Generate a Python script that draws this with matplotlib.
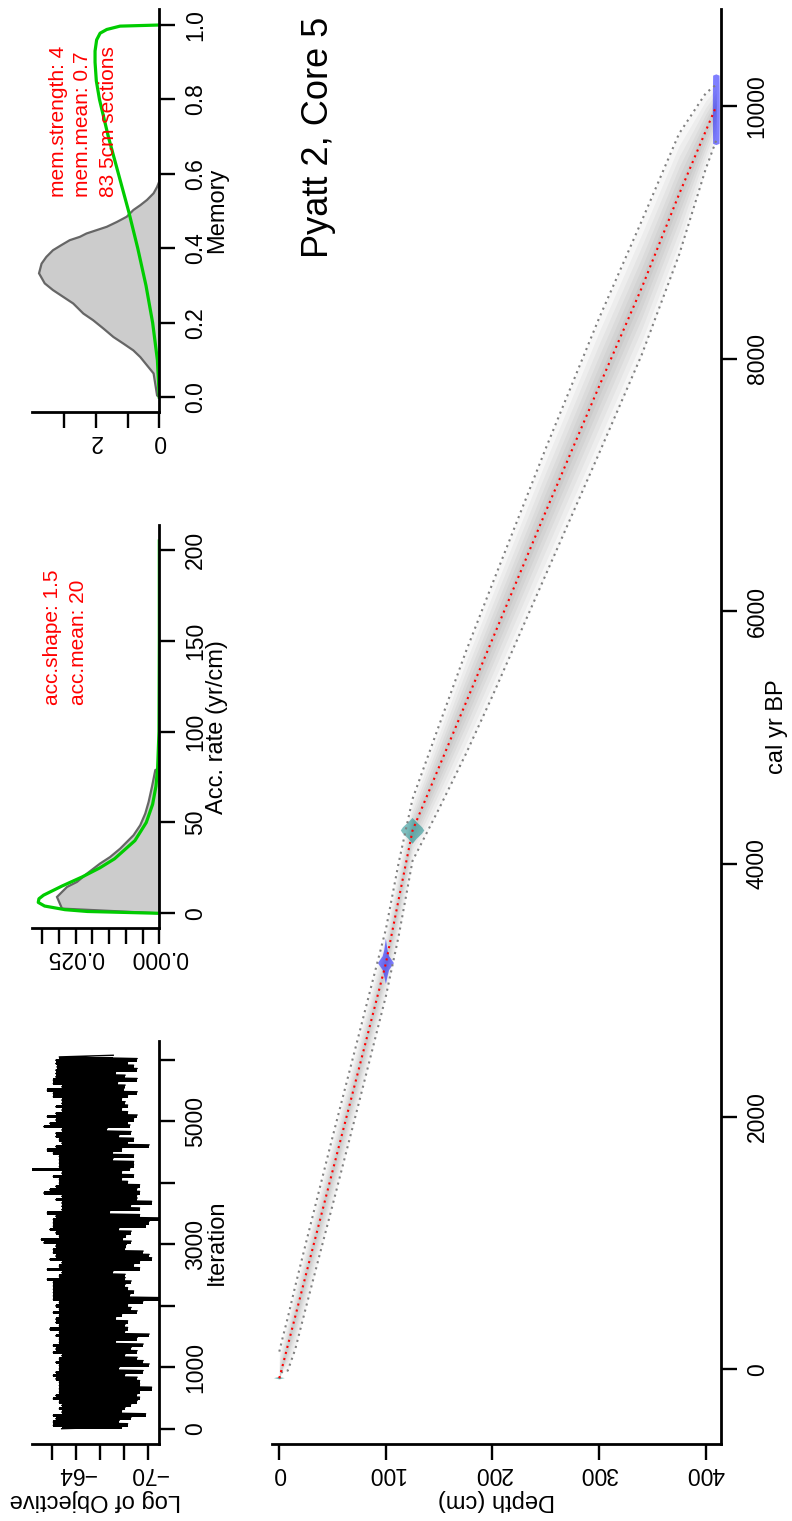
import numpy as np
import matplotlib
matplotlib.use("Agg")
import matplotlib.pyplot as plt

plt.rcParams['font.family'] = ['Liberation Sans', 'DejaVu Sans']

# ---- MCMC trace (log of objective): band edges per block, last block first
obj_hi = [-62.6, -62.3, -62.3, -62.4, -62.3, -62.3, -62.3, -62.1, -62.1, -62.8,
          -61.6, -62.1, -62.1, -62.8, -62.8, -62.3, -62.8, -62.3, -61.6, -62.3,
          -61.8, -61.3, -62.8, -62.3, -62.3, -62.6, -62.8, -62.3, -61.6, -62.1,
          -62.6, -62.6, -62.6, -62.6, -60.3, -62.8, -62.1, -62.6, -62.6, -62.3,
          -61.8, -61.3, -62.8, -62.3, -62.8, -62.8, -62.8, -61.6, -62.3, -62.1,
          -62.1, -62.1, -61.8, -62.3, -62.6, -61.1, -61.3, -62.3, -62.1, -62.1,
          -62.3, -61.8, -62.8, -62.6, -61.6, -62.8, -62.6, -61.6, -62.1, -62.1,
          -62.1, -62.1, -62.1, -62.1, -62.6, -62.3, -62.6, -62.1, -62.6, -62.3,
          -62.3, -62.6, -61.8, -62.6, -62.3, -62.6, -62.6, -62.1, -62.3, -62.1,
          -62.8, -62.6, -62.3, -62.6, -62.6, -62.3, -62.1, -62.3, -62.6, -62.6,
          -62.6, -62.6, -62.3, -62.1, -62.6, -62.8, -62.6, -62.8, -62.1, -62.3,
          -62.1, -62.1, -62.8]
obj_lo = [-67.1, -69.1, -68.3, -68.8, -69.1, -67.3, -68.1, -69.1, -67.5, -68.1,
          -68.0, -69.1, -68.3, -67.8, -68.1, -68.3, -67.8, -68.3, -69.1, -68.8,
          -68.3, -68.5, -66.6, -68.6, -67.6, -68.8, -68.3, -70.1, -67.8, -67.1,
          -68.8, -67.1, -68.8, -68.8, -68.5, -67.8, -68.8, -67.8, -68.3, -69.3,
          -69.1, -69.3, -69.1, -69.1, -70.3, -68.6, -69.3, -66.8, -69.3, -70.9,
          -70.1, -69.8, -67.6, -68.6, -68.2, -67.9, -68.6, -68.2, -68.1, -69.6,
          -70.1, -70.3, -69.3, -68.8, -69.3, -67.1, -68.1, -68.1, -68.6, -68.1,
          -68.3, -68.8, -68.5, -70.9, -69.6, -68.3, -68.6, -69.1, -67.8, -67.3,
          -68.3, -68.1, -68.3, -68.1, -70.1, -69.1, -67.3, -69.6, -68.6, -69.1,
          -68.1, -69.1, -69.6, -70.1, -67.6, -69.6, -68.1, -69.1, -69.3, -69.3,
          -70.3, -69.3, -69.1, -69.3, -69.1, -68.6, -68.1, -67.8, -69.8, -68.6,
          -67.6, -68.3, -67.8]
n_iter = 6050

# ---- accumulation rate: gamma prior and posterior
acc_rate = [0, 1, 2, 4, 6, 8, 10, 15, 20, 25, 30, 40, 50, 60, 70, 80, 100, 150, 205]
acc_prior = [0, 0.0215, 0.0282, 0.0343, 0.0362, 0.0360, 0.0346, 0.0291, 0.0231, 0.0178,
             0.0134, 0.0073, 0.0039, 0.0020, 0.0010, 0.0005, 0.0001, 0, 0]
acc_post_rate = [0, 2.6, 9.0, 14.5, 17.3, 21.9, 27.4, 31.0, 35.6, 39.3, 43.0, 48.5,
                 54.9, 61.3, 69.6, 78.8, 80]
acc_post = [0, 0.0291, 0.0306, 0.0276, 0.0246, 0.0216, 0.0177, 0.0147, 0.0117, 0.0097,
            0.0077, 0.0057, 0.0042, 0.0032, 0.0022, 0.0012, 0]

# ---- memory: beta prior and posterior
mem_w = [0, 0.1, 0.2, 0.3, 0.4, 0.5, 0.6, 0.7, 0.8, 0.85, 0.9, 0.93, 0.96, 0.978, 0.988, 0.997, 1.0]
mem_prior = [0, 0.06, 0.21, 0.42, 0.68, 0.97, 1.29, 1.61, 1.89, 1.99, 2.03, 2.03, 1.98, 1.87,
             1.66, 1.24, 0]
mem_post_w = [0, 0.005, 0.064, 0.086, 0.108, 0.126, 0.144, 0.162, 0.185, 0.207, 0.225, 0.252,
              0.270, 0.288, 0.306, 0.333, 0.359, 0.377, 0.395, 0.409, 0.422, 0.431, 0.440,
              0.449, 0.458, 0.471, 0.485, 0.503, 0.516, 0.530, 0.548, 0.565, 0.58, 0.99]
mem_post = [0, 0.07, 0.18, 0.39, 0.60, 0.82, 1.13, 1.45, 1.77, 2.09, 2.40, 2.72, 3.04, 3.36,
            3.62, 3.80, 3.72, 3.57, 3.36, 3.09, 2.83, 2.51, 2.30, 1.98, 1.66, 1.34, 1.03,
            0.82, 0.60, 0.39, 0.18, 0.07, 0, 0]

# ---- age-depth model
depth = [0, 3, 8, 15, 25, 50, 75, 100, 112, 125, 150, 175, 200, 250, 300, 340, 375, 400, 410]
age_mean = [-70, 25, 190, 420, 750, 1570, 2390, 3214, 3720, 4265, 4770, 5275, 5780, 6790,
            7780, 8560, 9300, 9800, 10000]
age_min = [-75, -15, -10, 160, 490, 1300, 2120, 2954, 3430, 4025, 4440, 4870, 5330, 6290,
           7250, 8030, 8820, 9500, 9730]
age_max = [140, 245, 410, 660, 1000, 1840, 2660, 3484, 4010, 4515, 5100, 5680, 6220, 7290,
           8320, 9090, 9780, 10100, 10170]

# calibrated dates: depth, ages and half-width (cm) of the probability shape
date_depth = [0, 100, 125, 410]
date_ages = [[-80, -70, -60],
             [3050, 3110, 3160, 3190, 3215, 3240, 3270, 3320, 3410],
             [4160, 4200, 4240, 4265, 4290, 4330, 4365],
             [9690, 9700, 9850, 9970, 10100, 10240, 10250]]
date_width = [[0, 5, 0],
              [0, 1.5, 3, 5.5, 7.5, 5.5, 3, 1.5, 0],
              [0, 4, 9, 11, 9, 4, 0],
              [0, 3, 3.2, 3.3, 3.2, 3, 0]]
date_col = [(0, 0.5, 0.5, 0.5), (0, 0, 1, 0.5), (0, 0.5, 0.5, 0.5), (0, 0, 1, 0.5)]

W, H = 792, 1521
fig = plt.figure(figsize=(W / 100, H / 100), dpi=100)


def rect(x0, y0, x1, y1):
    return [x0 / W, 1 - y1 / H, (x1 - x0) / W, (y1 - y0) / H]


def frame(ax):
    ax.spines['top'].set_visible(False)
    ax.spines['left'].set_visible(False)
    ax.spines['bottom'].set_linewidth(2)
    ax.spines['right'].set_linewidth(2)
    ax.yaxis.tick_right()
    ax.yaxis.set_label_position('right')
    ax.tick_params(direction='out', length=11.5, width=1.7, labelsize=16.5)
    ax.tick_params(axis='y', pad=6.5, labelrotation=90)
    ax.tick_params(axis='x', pad=1.2, labelrotation=180)
    ax.patch.set_alpha(0)


def fix_labels(ax):
    for t in ax.get_yticklabels():
        t.set_va('center')


ax_mem = fig.add_axes(rect(32, 9.3, 159.3, 412.3))
ax_acc = fig.add_axes(rect(32, 525, 159.3, 928.3))
ax_obj = fig.add_axes(rect(32, 1041, 159.3, 1444.3))
ax_age = fig.add_axes(rect(272, 9.3, 720.7, 1444.3))

# log of objective trace: solid band per block plus the zigzag between extremes
hi = np.array(obj_hi[::-1])
lo = np.array(obj_lo[::-1])
it = np.linspace(0, n_iter, len(hi))
step = it[1] - it[0]
ax_obj.fill_betweenx(it, lo, hi, step='mid', color='black', lw=0)
trace_x = np.column_stack([hi, lo]).ravel()
trace_y = np.column_stack([it, it + step / 2]).ravel()
ax_obj.plot(trace_x, trace_y, color='black', lw=1.0)
frame(ax_obj)
ax_obj.set_xlim(-60.33, -70.94)
ax_obj.set_ylim(-254, 6309)
ax_obj.set_xticks([-62, -64, -66, -68, -70], ['', '\u221264', '', '', '\u221270'])
ax_obj.set_yticks(range(0, 7000, 1000), ['0', '1000', '', '3000', '', '5000', ''])
ax_obj.set_xlabel('Log of Objective', rotation=180, fontsize=17, labelpad=3)
ax_obj.set_ylabel('Iteration', fontsize=17, labelpad=-1)
fix_labels(ax_obj)

# accumulation rate
ax_acc.fill(acc_post, acc_post_rate, facecolor='#cccccc', edgecolor='#666666', lw=1.6)
ax_acc.plot(acc_prior, acc_rate, color='#00cc00', lw=2.3)
frame(ax_acc)
ax_acc.set_xlim(0.03807, 0)
ax_acc.set_ylim(-8.26, 213.8)
ax_acc.set_xticks(np.arange(8) * 0.005, ['0.000', '', '', '', '', '0.025', '', ''])
ax_acc.set_yticks([0, 50, 100, 150, 200])
ax_acc.set_ylabel('Acc. rate (yr/cm)', fontsize=17, labelpad=-1)
fix_labels(ax_acc)

# memory
ax_mem.fill(mem_post, mem_post_w, facecolor='#cccccc', edgecolor='#666666', lw=1.6)
ax_mem.plot(mem_prior, mem_w, color='#00cc00', lw=2.3)
frame(ax_mem)
ax_mem.set_xlim(4.022, 0)
ax_mem.set_ylim(-0.0403, 1.0422)
ax_mem.set_xticks([0, 1, 2, 3], ['0', '', '2', ''])
ax_mem.set_yticks([0, 0.2, 0.4, 0.6, 0.8, 1.0])
ax_mem.set_ylabel('Memory', fontsize=17, labelpad=-1)
fix_labels(ax_mem)

# age-depth model
d = np.array(depth, dtype=float)
m = np.array(age_mean, dtype=float)
lo_a = np.array(age_min, dtype=float)
hi_a = np.array(age_max, dtype=float)
for f in [1.0, 0.8, 0.62, 0.45, 0.3, 0.15]:
    ax_age.fill_between(d, m - f * (m - lo_a), m + f * (hi_a - m),
                        color='black', alpha=0.035, lw=0)
for dd, ages, wd, col in zip(date_depth, date_ages, date_width, date_col):
    wd = np.array(wd)
    ages = np.array(ages)
    ax_age.fill(np.concatenate([dd - wd, (dd + wd)[::-1]]),
                np.concatenate([ages, ages[::-1]]), color=col, lw=0)
ax_age.plot(d, lo_a, color='#808080', lw=1.5, ls=(0, (1, 2)))
ax_age.plot(d, hi_a, color='#808080', lw=1.5, ls=(0, (1, 2)))
ax_age.plot(d, m, color='red', lw=1.5, ls=(0, (1, 2)))
frame(ax_age)
ax_age.set_xlim(-6.85, 414.1)
ax_age.set_ylim(-593.7, 10765)
ax_age.set_xticks([0, 100, 200, 300, 400])
ax_age.set_yticks([0, 2000, 4000, 6000, 8000, 10000])
ax_age.set_xlabel('Depth (cm)', rotation=180, fontsize=17, labelpad=3)
ax_age.set_ylabel('cal yr BP', fontsize=17, labelpad=-2)
fix_labels(ax_age)


def ptext(x, y, s, **kw):
    fig.text(x / W, 1 - y / H, s, rotation=90, **kw)


ptext(301, 258, 'Pyatt 2, Core 5', fontsize=26, ha='left', va='bottom')
ptext(52, 705, 'acc.shape: 1.5', fontsize=15, color='red', ha='center', va='bottom')
ptext(79, 705, 'acc.mean: 20', fontsize=15, color='red', ha='center', va='bottom')
ptext(59, 197, 'mem.strength: 4', fontsize=15, color='red', ha='center', va='bottom')
ptext(83, 197, 'mem.mean: 0.7', fontsize=15, color='red', ha='center', va='bottom')
ptext(109, 197, '83 5cm sections', fontsize=15, color='red', ha='center', va='bottom')

fig.savefig('out.png', dpi=100)
